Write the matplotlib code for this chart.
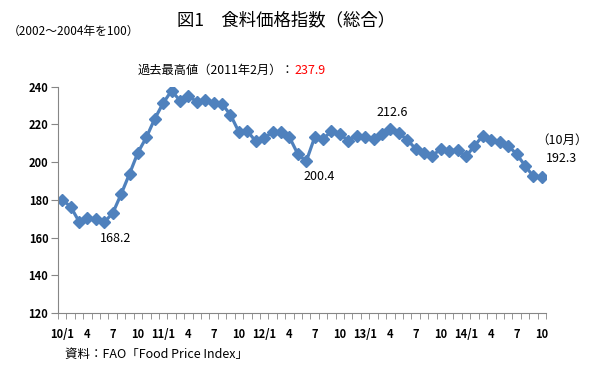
import numpy as np
import matplotlib
matplotlib.use('Agg')
import matplotlib.pyplot as plt

plt.rcParams['font.family'] = ['Noto Sans CJK JP', 'DejaVu Sans']

# FAO food price index, monthly 2010/1 - 2014/10 (2002-2004 = 100)
values = [
    180.0, 176.4, 168.5, 170.6, 169.7, 168.2, 172.9, 183.0, 193.8, 205.1, 213.1, 223.0,
    231.3, 237.9, 232.6, 235.2, 231.9, 233.1, 231.3, 230.8, 225.1, 216.0, 216.6, 211.0,
    212.8, 216.0, 216.0, 213.3, 204.3, 200.4, 213.1, 212.4, 216.3, 215.0, 211.3, 214.0,
    213.3, 212.4, 215.0, 217.5, 215.4, 211.9, 207.1, 204.8, 203.5, 206.9, 206.0, 206.5,
    203.0, 208.7, 214.0, 211.5, 210.6, 208.7, 204.3, 198.2, 192.4, 192.3,
]
tick_pos = [0, 3, 6, 9, 12, 15, 18, 21, 24, 27, 30, 33, 36, 39, 42, 45, 48, 51, 54, 57]
tick_labels = ['10/1', '4', '7', '10', '11/1', '4', '7', '10', '12/1', '4', '7', '10',
               '13/1', '4', '7', '10', '14/1', '4', '7', '10']
y_ticks = [120, 140, 160, 180, 200, 220, 240]

# (index, label, offset in points)
point_labels = [(5, '168.2', (8, -12)), (29, '200.4', (9.5, -11)),
                (39, '212.6', (1.5, 12)), (57, '192.3', (14.5, 13))]

W, H = 589, 368
fig = plt.figure(figsize=(W / 100, H / 100), dpi=100)
ax = fig.add_axes([58 / W, (H - 313) / H, 488 / W, 226.3 / H])

x = np.arange(len(values))
ax.plot(x, values, color='#4F81BD', linewidth=2.3, marker='D', markersize=6,
        markeredgecolor='#4F81BD', markerfacecolor='#4F81BD')

ax.set_xlim(-0.5, len(values) - 0.5)
ax.set_ylim(120, 240)
ax.set_yticks(y_ticks)
ax.set_xticks(tick_pos)
ax.set_xticklabels(tick_labels)
ax.set_xticks(np.arange(-0.5, len(values), 1), minor=True)

gray = '#868686'
for s in ['top', 'right']:
    ax.spines[s].set_visible(False)
for s in ['left', 'bottom']:
    ax.spines[s].set_color(gray)
ax.tick_params(axis='x', which='major', length=0, labelsize=8, pad=11)
ax.tick_params(axis='x', which='minor', length=4, color=gray, direction='out')
ax.tick_params(axis='y', length=5, color=gray, labelsize=8, pad=2, direction='out')
for lbl in ax.get_xticklabels() + ax.get_yticklabels():
    lbl.set_fontweight('bold')

for i, txt, off in point_labels:
    ax.annotate(txt, xy=(i, values[i]), xytext=off, textcoords='offset points',
                ha='center', va='center', fontsize=9)
ax.annotate('（10月）', xy=(57, values[57]), xytext=(14.5, 26.5),
            textcoords='offset points', ha='center', va='center', fontsize=9)

fig.text(286 / W, 1 - 20 / H, '図1　食料価格指数（総合）', ha='center', va='center', fontsize=12.5)
fig.text(8 / W, 1 - 31 / H, '（2002～2004年を100）', ha='left', va='center', fontsize=8.5)
fig.text(294 / W, 1 - 70 / H, '過去最高値（2011年2月）：', ha='right', va='center', fontsize=8.8)
fig.text(294 / W, 1 - 70 / H, '237.9', ha='left', va='center', fontsize=9, color='#FF0000')
fig.text(65 / W, 1 - 354 / H, '資料：FAO「Food Price Index」', ha='left', va='center', fontsize=9)

fig.savefig('out.png', dpi=100)
